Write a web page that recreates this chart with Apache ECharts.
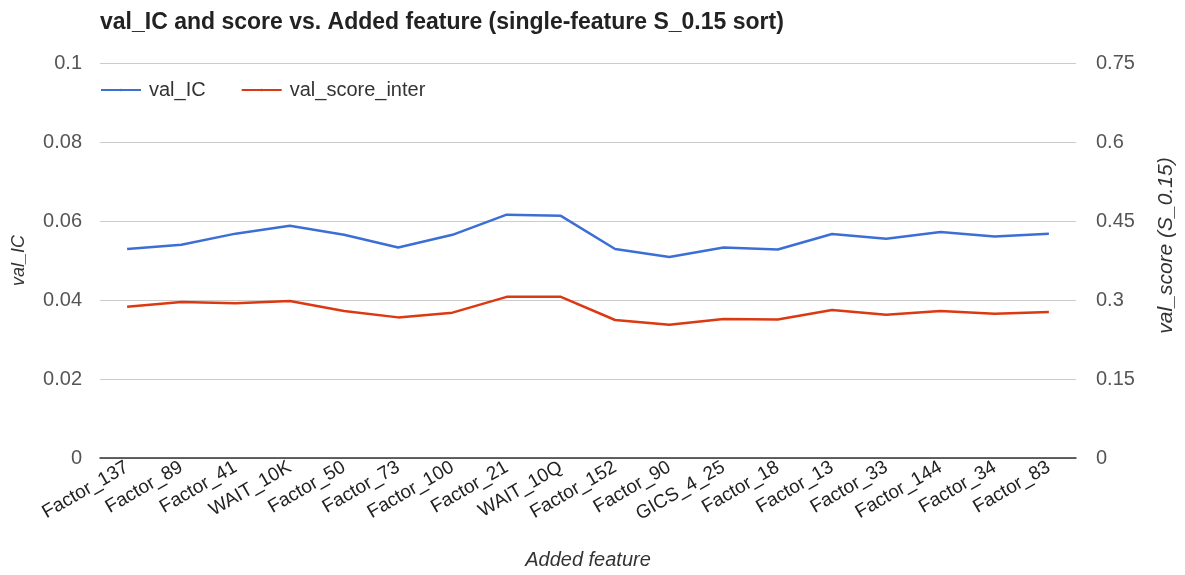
<!DOCTYPE html>
<html>
<head>
<meta charset="utf-8">
<script src="https://cdn.jsdelivr.net/npm/echarts@6/dist/echarts.min.js"></script>
<style>
html, body { margin: 0; padding: 0; background: #fff; }
#chart { width: 1185px; height: 575px; }
</style>
</head>
<body>
<div id="chart"></div>
<script>
var features = ["Factor_137", "Factor_89", "Factor_41", "WAIT_10K", "Factor_50", "Factor_73",
	"Factor_100", "Factor_21", "WAIT_10Q", "Factor_152", "Factor_90", "GICS_4_25",
	"Factor_18", "Factor_13", "Factor_33", "Factor_144", "Factor_34", "Factor_83"];
var valIC = [0.0529, 0.0540, 0.0568, 0.0588, 0.0565, 0.0533, 0.0565, 0.0616, 0.0613,
	0.0529, 0.0509, 0.0533, 0.0528, 0.0567, 0.0555, 0.0572, 0.0561, 0.0568];
var valScore = [0.287, 0.296, 0.294, 0.298, 0.279, 0.267, 0.276, 0.306, 0.306,
	0.262, 0.253, 0.264, 0.263, 0.281, 0.272, 0.279, 0.274, 0.277];
var leftTicks = [0, 0.02, 0.04, 0.06, 0.08, 0.1];
var rightTicks = [0, 0.15, 0.3, 0.45, 0.6, 0.75];

var font = "Arial, 'Liberation Sans', sans-serif";
var chart = echarts.init(document.getElementById('chart'));
var tickLabel = function(ticks) {
	return function(v) {
		var r = +v.toFixed(2);
		return ticks.indexOf(r) >= 0 ? String(r) : '';
	};
};
var option = {
	animation : false,
	title : {
		text : "val_IC and score vs. Added feature (single-feature S_0.15 sort)",
		left : 95,
		top : 6,
		textStyle : {
			fontFamily : font,
			fontSize : 23,
			fontWeight : 'bold',
			color : '#222'
		}
	},
	legend : {
		left : 95,
		top : 75,
		itemWidth : 40,
		itemHeight : 3,
		itemGap : 35,
		textStyle : {
			fontFamily : font,
			fontSize : 20,
			color : '#333',
			padding : [ 0, 0, 0, 3 ]
		},
		data : [ 'val_IC', 'val_score_inter' ]
	},
	grid : {
		left : 100,
		right : 103,
		top : 63,
		bottom : 114
	},
	xAxis : {
		type : 'category',
		data : features,
		name : 'Added feature',
		nameLocation : 'middle',
		nameGap : 92,
		nameTextStyle : {
			fontFamily : font,
			fontSize : 20,
			fontStyle : 'italic',
			color : '#333'
		},
		axisLine : { lineStyle : { color : '#333', width : 1.5 } },
		axisTick : { show : false },
		axisLabel : {
			interval : 0,
			rotate : 30,
			margin : 8,
			fontFamily : font,
			fontSize : 19,
			color : '#222'
		}
	},
	yAxis : [ {
		type : 'value',
		min : 0,
		max : 0.1,
		interval : 0.02,
		name : 'val_IC',
		nameLocation : 'middle',
		nameRotate : 90,
		nameGap : 72,
		nameTextStyle : {
			fontFamily : font,
			fontSize : 18,
			fontStyle : 'italic',
			color : '#333'
		},
		axisLabel : {
			margin : 18,
			fontFamily : font,
			fontSize : 20,
			color : '#555',
			formatter : tickLabel(leftTicks)
		},
		splitLine : { lineStyle : { color : '#ccc' } }
	}, {
		type : 'value',
		min : 0,
		max : 0.75,
		interval : 0.15,
		name : 'val_score (S_0.15)',
		nameLocation : 'middle',
		nameRotate : 90,
		nameGap : 80,
		nameTextStyle : {
			fontFamily : font,
			fontSize : 21,
			fontStyle : 'italic',
			color : '#333',
			padding : [ 0, 0, 0, 30 ]
		},
		axisLabel : {
			margin : 20,
			fontFamily : font,
			fontSize : 20,
			color : '#555',
			formatter : tickLabel(rightTicks)
		},
		splitLine : { show : false }
	} ],
	series : [ {
		name : 'val_IC',
		type : 'line',
		yAxisIndex : 0,
		data : valIC,
		symbol : 'none',
		lineStyle : { color : '#3c6fd6', width : 2.5 },
		itemStyle : { color : '#3c6fd6' }
	}, {
		name : 'val_score_inter',
		type : 'line',
		yAxisIndex : 1,
		data : valScore,
		symbol : 'none',
		lineStyle : { color : '#dc3912', width : 2.5 },
		itemStyle : { color : '#dc3912' }
	} ]
};
chart.setOption(option);
</script>
</body>
</html>
